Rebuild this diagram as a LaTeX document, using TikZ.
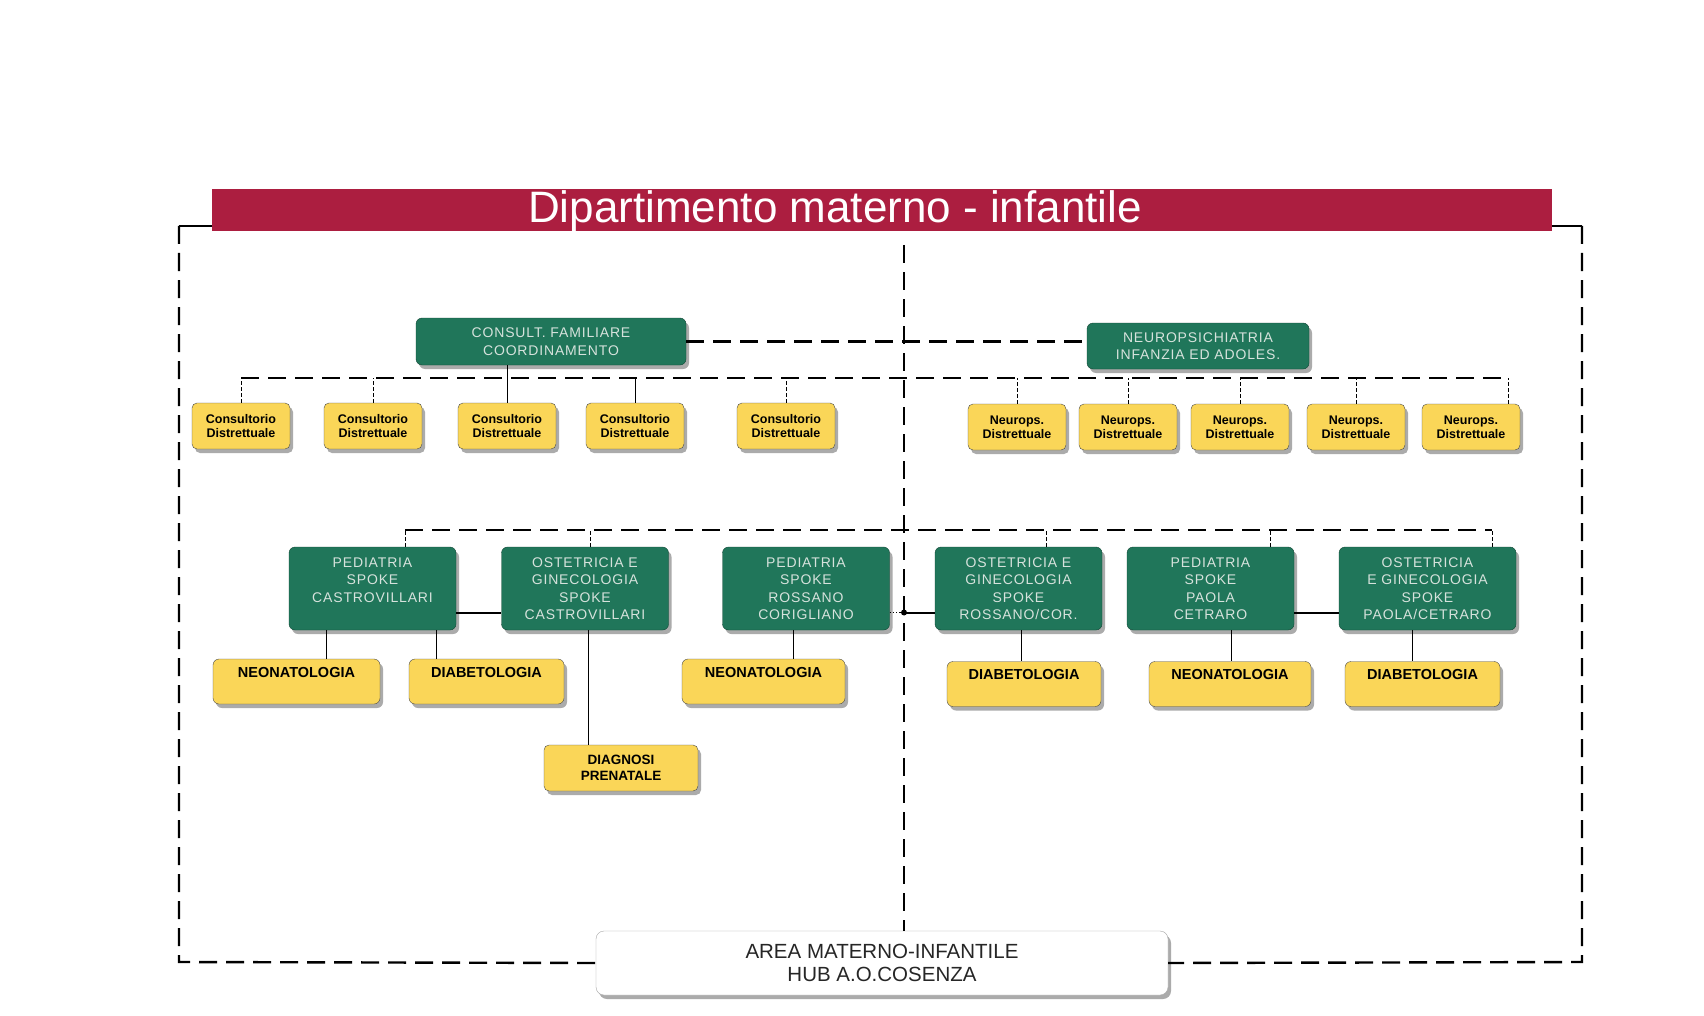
\documentclass[tikz,border=0pt]{standalone}
\usepackage{fontspec}
\setmainfont{Liberation Sans}
\newfontfamily\spacedfont[LetterSpace=6]{Liberation Sans}
\usepackage{tikz}
\usetikzlibrary{shadows,calc}
\definecolor{DeptRed}{RGB}{172,30,64}
\definecolor{DeptGreen}{RGB}{32,118,90}
\definecolor{DeptYellow}{RGB}{250,214,88}
\definecolor{DeptText}{RGB}{214,226,220}

\begin{document}
\begin{tikzpicture}[x=1pt,y=-1pt,
  boxshadow/.style={drop shadow={shadow xshift=3pt,shadow yshift=-4pt,fill=black!55,opacity=.6}},
  greenbox/.style={rectangle,rounded corners=6pt,fill=DeptGreen,draw=DeptGreen!60!black,
    text=DeptText,align=center,inner sep=2pt,boxshadow,
    font=\spacedfont\fontsize{14}{17.5}\selectfont},
  smallbox/.style={rectangle,rounded corners=5pt,fill=DeptYellow,draw=black!70,
    align=center,inner sep=2pt,minimum width=98pt,minimum height=46pt,boxshadow,
    font=\bfseries\fontsize{12.5}{14}\selectfont},
  unitbox/.style={rectangle,rounded corners=6pt,fill=DeptYellow,draw=black!70,
    align=center,inner xsep=2pt,inner ysep=4pt,text height=14pt,text depth=23pt,
    boxshadow,font=\bfseries\fontsize{14.5}{16}\selectfont},
  frame/.style={line width=2.4pt,dash pattern=on 18pt off 9pt},
  tick/.style={line width=0.8pt,dash pattern=on 4pt off 2pt},
  link/.style={line width=1pt}]
\fill[white] (0,0) rectangle (1704,1016);
\useasboundingbox (0,0) rectangle (1704,1016);

\node[fill=DeptRed,minimum width=1340pt,minimum height=42pt,inner sep=0pt] (bar) at (882,210) {};
\node[text=white,font=\fontsize{44}{44}\selectfont] (title) at (835,211) {Dipartimento materno - infantile};

\node[greenbox,minimum width=270pt,minimum height=47pt] (cons) at (551,341.5) {CONSULT. FAMILIARE\\COORDINAMENTO};
\node[greenbox,minimum width=222pt,minimum height=46pt] (neuro) at (1198,346) {NEUROPSICHIATRIA\\INFANZIA ED ADOLES.};

\foreach \x [count=\i] in {241,373,507,635,786}
  \node[smallbox] (cd\i) at (\x,426) {Consultorio\\Distrettuale};
\foreach \x [count=\i] in {1017,1128,1240,1356,1471}
  \node[smallbox] (np\i) at (\x,427) {Neurops.\\Distrettuale};

\node[greenbox,minimum width=167pt,minimum height=83pt] (pc) at (372.5,588.5) {PEDIATRIA\\SPOKE\\CASTROVILLARI\\~};
\node[greenbox,minimum width=167pt,minimum height=83pt] (oc) at (585,588.5) {OSTETRICIA E\\GINECOLOGIA\\SPOKE\\CASTROVILLARI};
\node[greenbox,minimum width=167pt,minimum height=83pt] (pr) at (806,588.5) {PEDIATRIA\\SPOKE\\ROSSANO\\CORIGLIANO};
\node[greenbox,minimum width=167pt,minimum height=83pt] (or) at (1018.5,588.5) {OSTETRICIA E\\GINECOLOGIA\\SPOKE\\ROSSANO/COR.};
\node[greenbox,minimum width=167pt,minimum height=83pt] (pp) at (1210.5,588.5) {PEDIATRIA\\SPOKE\\PAOLA\\CETRARO};
\node[greenbox,minimum width=177pt,minimum height=83pt] (op) at (1427.5,588.5) {OSTETRICIA\\E GINECOLOGIA\\SPOKE\\PAOLA/CETRARO};

\node[unitbox,minimum width=167pt] (neo1) at (296.5,681.5) {NEONATOLOGIA};
\node[unitbox,minimum width=155pt] (dia1) at (486.5,681.5) {DIABETOLOGIA};
\node[unitbox,minimum width=163pt] (neo2) at (763.5,681.5) {NEONATOLOGIA};
\node[unitbox,minimum width=154pt] (dia2) at (1024,684) {DIABETOLOGIA};
\node[unitbox,minimum width=162pt] (neo3) at (1230,684) {NEONATOLOGIA};
\node[unitbox,minimum width=155pt] (dia3) at (1422.5,684) {DIABETOLOGIA};
\node[smallbox,minimum width=154pt,font=\bfseries\fontsize{13.5}{15.5}\selectfont] (diag) at (621,768) {DIAGNOSI\\PRENATALE};

\node[rectangle,rounded corners=8pt,fill=white,draw=black!35,minimum width=572pt,minimum height=64pt,
  align=center,text=black!85,boxshadow,font=\fontsize{20.5}{22.5}\selectfont] (area) at (882,963)
  {AREA MATERNO-INFANTILE\\HUB A.O.COSENZA};

\coordinate (fl) at (179,226);
\coordinate (fr) at (1582,226);
\coordinate (bl) at (179,962);
\coordinate (br) at (1582,962);
\coordinate (ctop) at (904,245);
\coordinate (b1) at (0,378);
\coordinate (b2) at (0,530);

\draw[line width=2.4pt] (fl) -- (fl -| bar.west);
\draw[line width=2.4pt] (fr) -- (fr -| bar.east);
\draw[frame] (fl) -- (bl) -- (area.west);
\draw[frame] (fr) -- (br) -- (area.east);
\draw[frame] (ctop) -- (ctop |- area.north);
\draw[frame] (cons.east) -- (cons.east -| neuro.west);

\draw[frame] (cd1.north |- b1) -- ([xshift=37pt]np5.north |- b1);
\foreach \n in {cd1,cd2,cd5,np1,np2,np3,np4}
  \draw[tick] (\n.north) -- (\n.north |- b1);
\draw[tick] ([xshift=37pt]np5.north) -- ([xshift=37pt]np5.north |- b1);
\draw[link] (cd3.north) -- (cd3.north |- cons.south);
\draw[link] (cd4.north) -- (cd4.north |- b1);

\draw[frame] ([xshift=32.5pt]pc.north |- b2) -- ([xshift=64.5pt]op.north |- b2);
\foreach \n/\d in {pc/32.5,oc/5,or/27.5,pp/59.5,op/64.5}
  \draw[tick] ([xshift=\d pt]\n.north) -- ([xshift=\d pt]\n.north |- b2);

\draw[line width=2pt] ([yshift=-24pt]pc.east) -- ([yshift=-24pt]oc.west);
\draw[line width=2pt] ([yshift=-24pt]pp.east) -- ([yshift=-24pt]op.west);
\draw[line width=1.2pt,dotted] ([yshift=-24pt]pr.east) -- ([yshift=-24pt]pr.east -| ctop);
\draw[line width=2pt] ([yshift=-24pt]pr.east -| ctop) -- ([yshift=-24pt]or.west);
\fill ([yshift=-24pt]pr.east -| ctop) circle (3pt);

\foreach \a/\b/\d in {pc/neo1/-46.5,pc/dia1/63.5,oc/diag/3,pr/neo2/-13,or/dia2/2.5,pp/neo3/20.5,op/dia3/-15.5}
  \draw[link] ([xshift=\d pt]\a.south) -- ([xshift=\d pt]\a.south |- \b.north);
\end{tikzpicture}
\end{document}
